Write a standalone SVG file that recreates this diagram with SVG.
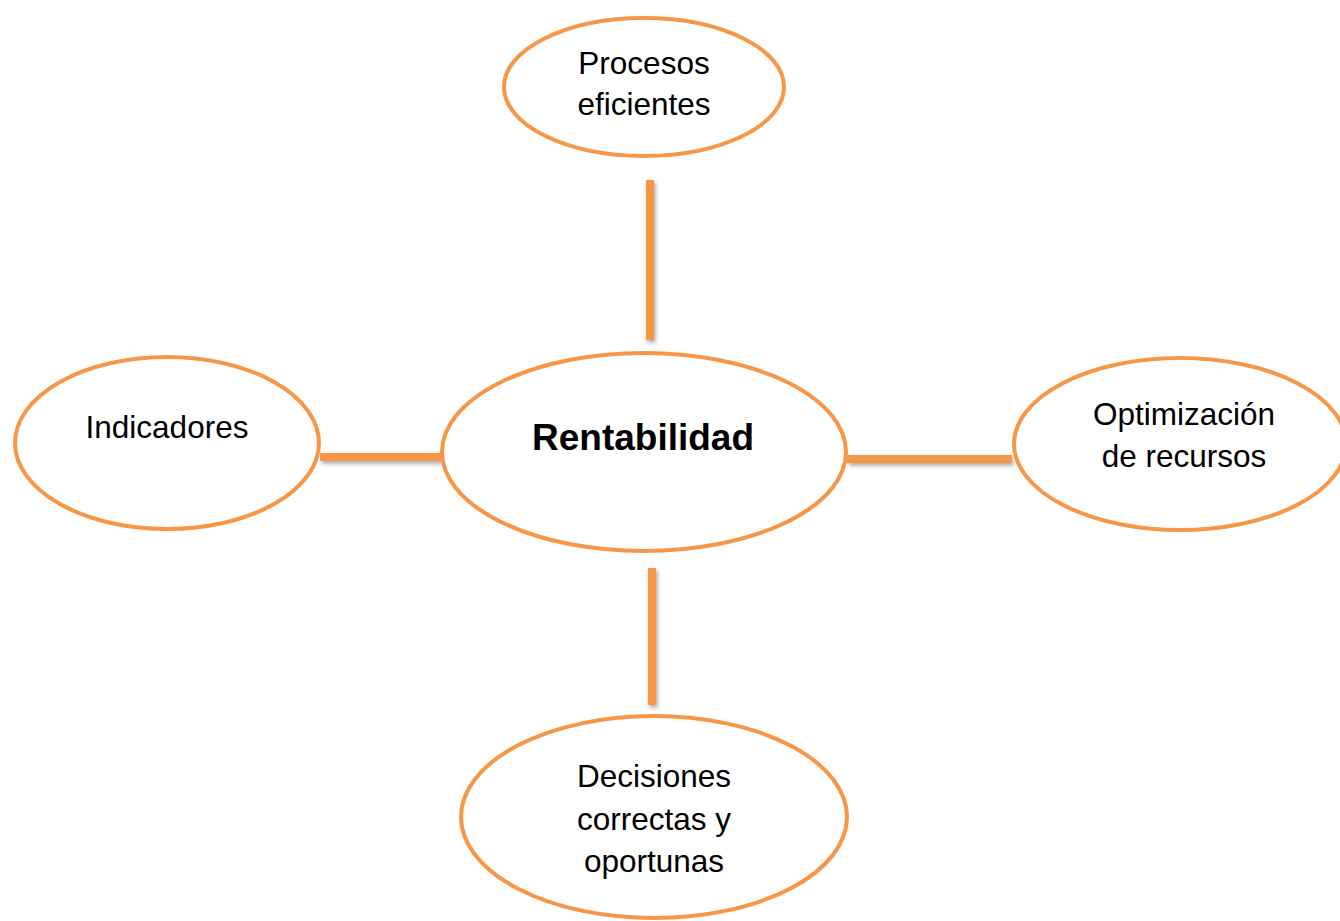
<svg xmlns="http://www.w3.org/2000/svg" width="1340" height="921" viewBox="0 0 1340 921">
  <defs>
    <filter id="shadow" filterUnits="userSpaceOnUse" x="0" y="0" width="1340" height="921">
      <feDropShadow dx="1.5" dy="2.5" stdDeviation="2" flood-color="#000" flood-opacity="0.35"/>
    </filter>
  </defs>
  <style>
    .bubble { fill: #ffffff; stroke: #F79646; stroke-width: 4; }
    .link { stroke: #F79646; stroke-width: 8; fill: none; filter: url(#shadow); }
    .lbl { font-family: "Liberation Sans", Arial, sans-serif; font-size: 31.5px; fill: #000; text-anchor: middle; }
    .main { font-family: "Liberation Sans", Arial, sans-serif; font-size: 37px; font-weight: bold; fill: #000; text-anchor: middle; }
  </style>
  <rect width="1340" height="921" fill="#ffffff"/>

  <g id="connectors">
    <line class="link" x1="650" y1="180" x2="650" y2="340"/>
    <line class="link" x1="320" y1="457" x2="442" y2="457"/>
    <line class="link" x1="847" y1="459" x2="1012" y2="459"/>
    <line class="link" x1="652" y1="568" x2="652" y2="705"/>
  </g>

  <g id="node-procesos">
    <ellipse class="bubble" cx="644" cy="87" rx="140" ry="69"/>
    <text class="lbl" x="644" y="74">Procesos</text>
    <text class="lbl" x="644" y="115">eficientes</text>
  </g>

  <g id="node-rentabilidad">
    <ellipse class="bubble" cx="644" cy="452" rx="202" ry="99"/>
    <text class="main" x="643" y="450">Rentabilidad</text>
  </g>

  <g id="node-indicadores">
    <ellipse class="bubble" cx="167" cy="443" rx="152" ry="86"/>
    <text class="lbl" x="167" y="438">Indicadores</text>
  </g>

  <g id="node-optimizacion">
    <ellipse class="bubble" cx="1180" cy="444" rx="166" ry="86"/>
    <text class="lbl" x="1184" y="425">Optimización</text>
    <text class="lbl" x="1184" y="467">de recursos</text>
  </g>

  <g id="node-decisiones">
    <ellipse class="bubble" cx="654" cy="817" rx="193" ry="101"/>
    <text class="lbl" x="654" y="787">Decisiones</text>
    <text class="lbl" x="654" y="830">correctas y</text>
    <text class="lbl" x="654" y="872">oportunas</text>
  </g>
</svg>
